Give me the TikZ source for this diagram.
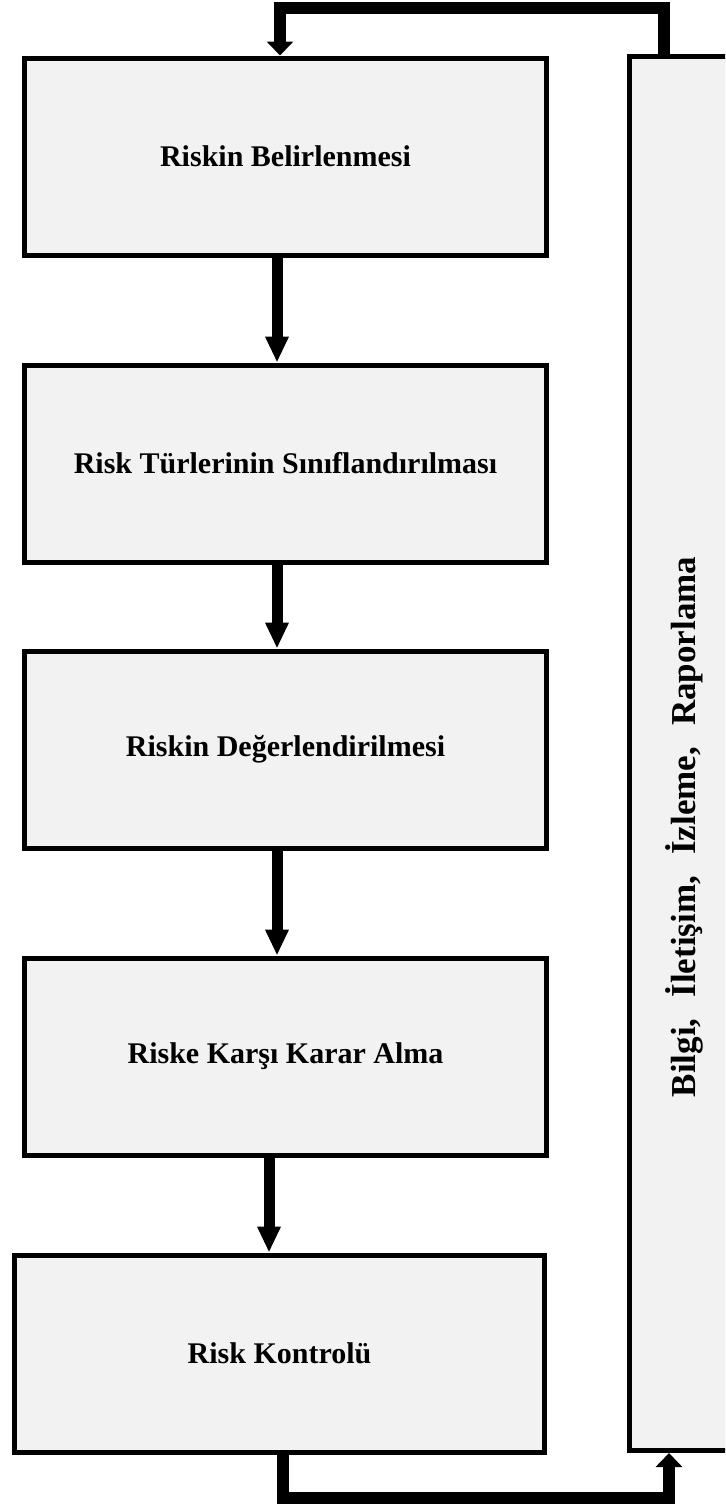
\documentclass[tikz,border=0pt]{standalone}
\usepackage{fontspec}
\setmainfont{Liberation Serif}
\usepackage{xcolor}
\usetikzlibrary{arrows.meta,positioning,calc}
\definecolor{boxgray}{HTML}{F2F2F2}

\begin{document}
\begin{tikzpicture}[x=0.5pt, y=-0.5pt, node distance=50pt]
	\tikzstyle{stepbox}=[draw=black, fill=boxgray, line width=2.5pt, minimum width=261pt, minimum height=98.5pt, inner sep=0pt, font=\fontsize{15}{18}\selectfont\bfseries]
	\tikzstyle{flow}=[line width=5.5pt, -{Triangle[length=13pt,width=11pt]}]
	\tikzstyle{loopline}=[line width=6pt, -{Triangle[length=7pt,width=13pt]}]
	\useasboundingbox (0,0) rectangle (725,1505);
	\clip (0,0) rectangle (725,1505);
	\node[stepbox]    (b1) at (285.5,156.5)      {Riskin Belirlenmesi};
	\node[stepbox]    (b2)[below=52.5pt of b1]   {Risk Türlerinin Sınıflandırılması};
	\node[stepbox]    (b3)[below=42pt of b2]     {Riskin Değerlendirilmesi};
	\node[stepbox]    (b4)[below=52.5pt of b3]   {Riske Karşı Karar Alma};
	\node[stepbox, minimum width=265pt] (b5)[below=47.5pt of b4, xshift=-3pt] {Risk Kontrolü};
	% side box
	\node[draw=black, fill=boxgray, line width=2.5pt, minimum width=55.25pt, minimum height=697pt, inner sep=0pt] (rb) at (684.75,753.5) {};
	\node[rotate=90, font=\fontsize{17.5}{20}\selectfont\bfseries] (rbtext) at (684,827) {Bilgi,\hspace{0.6em}İletişim,\hspace{0.6em}İzleme,\hspace{0.6em}Raporlama};
	% arrows between steps
	\coordinate (c45) at ([xshift=-8.25pt]b4.south);
	\draw[flow] ([xshift=-4.25pt]b1.south) -- ([xshift=-4.25pt]b2.north);
	\draw[flow] ([xshift=-4.25pt]b2.south) -- ([xshift=-4.25pt]b3.north);
	\draw[flow] ([xshift=-4.25pt]b3.south) -- ([xshift=-4.25pt]b4.north);
	\draw[flow] (c45) -- (c45 |- b5.north);
	% feedback loop
	\coordinate (tl) at (280,8);
	\coordinate (tr) at (664,8);
	\coordinate (bl) at (283,1498);
	\coordinate (br) at (669,1498);
	\draw[loopline] (rb.north -| tr) -- (tr) -- (tl) -- (b1.north -| tl);
	\draw[loopline] (b5.south -| bl) -- (bl) -- (br) -- (rb.south -| br);
\end{tikzpicture}
\end{document}
